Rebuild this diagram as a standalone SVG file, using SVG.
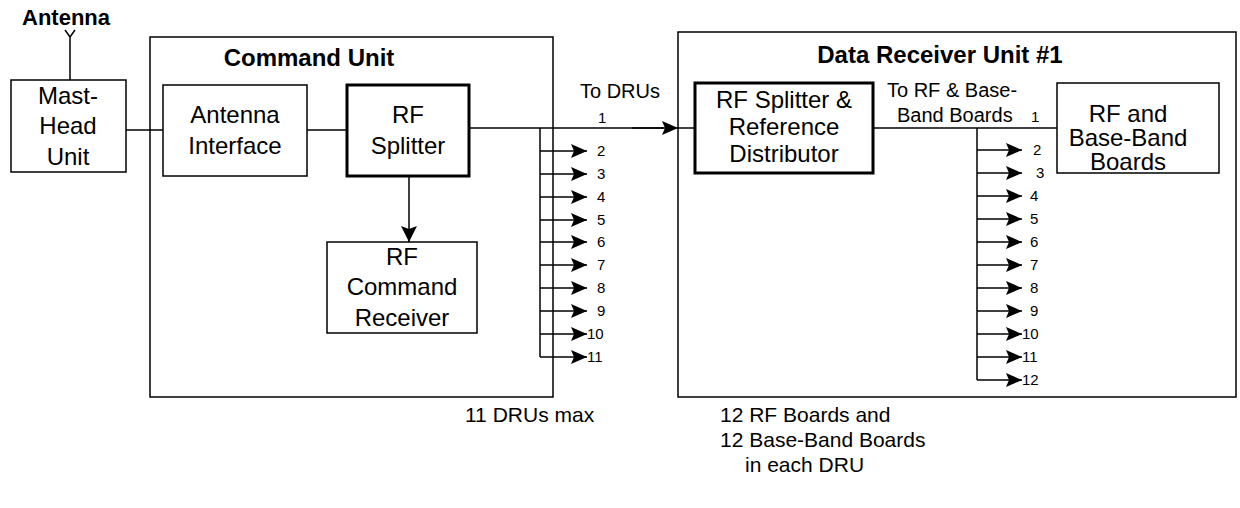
<svg xmlns="http://www.w3.org/2000/svg" width="1240" height="508" viewBox="0 0 1240 508">
  <defs>
    <style>
      .box{fill:#fff;stroke:#000;stroke-width:1.5}
      .unit{fill:none;stroke:#000;stroke-width:1.5}
      .thick{stroke-width:3}
      .wire{fill:none;stroke:#000;stroke-width:1.5}
      text{font-family:"Liberation Sans",Arial,Helvetica,sans-serif;fill:#000}
      .t{font-size:24px;text-anchor:middle}
      .title{font-size:24px;font-weight:bold;text-anchor:middle}
      .note{font-size:20px}
      .num{font-size:15px}
      .foot{font-size:21px}
    </style>
    <marker id="ah" viewBox="0 0 16 14" refX="16" refY="7" markerWidth="16" markerHeight="14" markerUnits="userSpaceOnUse" orient="auto">
      <path d="M0,0 L16,7 L0,14 L3,7 Z" fill="#000"/>
    </marker>
    <marker id="ahBig" viewBox="0 0 16 16" refX="16" refY="8" markerWidth="16" markerHeight="16" markerUnits="userSpaceOnUse" orient="auto">
      <path d="M0,0 L16,8 L0,16 L3,8 Z" fill="#000"/>
    </marker>
  </defs>
  <rect width="1240" height="508" fill="#fff"/>

  <!-- enclosures -->
  <g id="command-unit">
    <rect class="unit" x="150" y="37" width="403" height="360"/>
    <text class="title" x="309" y="66">Command Unit</text>
  </g>
  <g id="data-receiver-unit">
    <rect class="unit" x="678" y="32" width="558" height="365"/>
    <text class="title" x="940" y="63">Data Receiver Unit #1</text>
  </g>

  <!-- connectors -->
  <g id="connectors">
    <path class="wire" d="M65,30 L70,37 L75,30 M70,37 V80"/>
    <line class="wire" x1="126" y1="130" x2="163" y2="130"/>
    <line class="wire" x1="307" y1="130" x2="347" y2="130"/>
    <line class="wire" x1="409" y1="176" x2="409" y2="242" marker-end="url(#ahBig)"/>
    <!-- splitter output 1 to the DRU -->
    <line class="wire" x1="469" y1="128" x2="678" y2="128" marker-end="url(#ah)"/>
    <line class="wire" x1="632" y1="128" x2="664" y2="128" stroke-width="2.5"/>
    <line class="wire" x1="678" y1="128" x2="695" y2="128"/>
    <!-- command unit fan-out bus, outputs 2..11 -->
    <line class="wire" x1="540" y1="128" x2="540" y2="357"/>
    <g marker-end="url(#ah)">
      <line class="wire" x1="540" y1="151" x2="587" y2="151"/>
      <line class="wire" x1="540" y1="174" x2="587" y2="174"/>
      <line class="wire" x1="540" y1="197" x2="587" y2="197"/>
      <line class="wire" x1="540" y1="220" x2="587" y2="220"/>
      <line class="wire" x1="540" y1="242" x2="587" y2="242"/>
      <line class="wire" x1="540" y1="265" x2="587" y2="265"/>
      <line class="wire" x1="540" y1="288" x2="587" y2="288"/>
      <line class="wire" x1="540" y1="311" x2="587" y2="311"/>
      <line class="wire" x1="540" y1="334" x2="587" y2="334"/>
      <line class="wire" x1="540" y1="357" x2="587" y2="357"/>
    </g>
    <!-- DRU board feed and fan-out bus, outputs 2..12 -->
    <line class="wire" x1="873" y1="128" x2="1057" y2="128"/>
    <line class="wire" x1="977" y1="128" x2="977" y2="380"/>
    <g marker-end="url(#ah)">
      <line class="wire" x1="977" y1="150" x2="1022" y2="150"/>
      <line class="wire" x1="977" y1="173" x2="1022" y2="173"/>
      <line class="wire" x1="977" y1="196" x2="1022" y2="196"/>
      <line class="wire" x1="977" y1="219" x2="1022" y2="219"/>
      <line class="wire" x1="977" y1="242" x2="1022" y2="242"/>
      <line class="wire" x1="977" y1="265" x2="1022" y2="265"/>
      <line class="wire" x1="977" y1="288" x2="1022" y2="288"/>
      <line class="wire" x1="977" y1="311" x2="1022" y2="311"/>
      <line class="wire" x1="977" y1="334" x2="1022" y2="334"/>
      <line class="wire" x1="977" y1="357" x2="1022" y2="357"/>
      <line class="wire" x1="977" y1="380" x2="1022" y2="380"/>
    </g>
  </g>

  <!-- connector labels -->
  <g id="port-labels" class="num">
    <text class="note" x="580" y="98">To DRUs</text>
    <text x="598" y="123">1</text>
    <text x="597" y="156">2</text>
    <text x="597" y="179">3</text>
    <text x="597" y="202">4</text>
    <text x="597" y="225">5</text>
    <text x="597" y="247">6</text>
    <text x="597" y="270">7</text>
    <text x="597" y="293">8</text>
    <text x="597" y="316">9</text>
    <text x="587" y="339">10</text>
    <text x="587" y="362">11</text>

    <text class="note" x="887" y="97">To RF &amp; Base-</text>
    <text class="note" x="897" y="122">Band Boards</text>
    <text x="1031" y="122">1</text>
    <text x="1033" y="155">2</text>
    <text x="1036" y="178">3</text>
    <text x="1030" y="201">4</text>
    <text x="1030" y="224">5</text>
    <text x="1030" y="247">6</text>
    <text x="1030" y="270">7</text>
    <text x="1030" y="293">8</text>
    <text x="1030" y="316">9</text>
    <text x="1022" y="339">10</text>
    <text x="1022" y="362">11</text>
    <text x="1022" y="385">12</text>
  </g>

  <!-- blocks -->
  <g id="antenna">
    <text x="22" y="25" font-size="22" font-weight="bold">Antenna</text>
  </g>
  <g id="mast-head-unit">
    <rect class="box" x="11" y="80" width="115" height="92"/>
    <text class="t" font-size="23" x="68" y="104">Mast-</text>
    <text class="t" font-size="23" x="68" y="134">Head</text>
    <text class="t" font-size="23" x="68" y="165">Unit</text>
  </g>
  <g id="antenna-interface">
    <rect class="box" x="163" y="85" width="144" height="91"/>
    <text class="t" x="235" y="123">Antenna</text>
    <text class="t" x="235" y="154">Interface</text>
  </g>
  <g id="rf-splitter">
    <rect class="box thick" x="347" y="85" width="122" height="91"/>
    <text class="t" x="408" y="123">RF</text>
    <text class="t" x="408" y="154">Splitter</text>
  </g>
  <g id="rf-command-receiver">
    <rect class="box" x="327" y="242" width="150" height="91"/>
    <text class="t" x="402" y="265">RF</text>
    <text class="t" x="402" y="295">Command</text>
    <text class="t" x="402" y="326">Receiver</text>
  </g>
  <g id="rf-splitter-reference-distributor">
    <rect class="box thick" x="695" y="83" width="178" height="90"/>
    <text class="t" x="784" y="108">RF Splitter &amp;</text>
    <text class="t" x="784" y="135">Reference</text>
    <text class="t" x="784" y="162">Distributor</text>
  </g>
  <g id="rf-baseband-boards">
    <rect class="box" x="1057" y="83" width="162" height="90"/>
    <text class="t" font-size="23" x="1128" y="122">RF and</text>
    <text class="t" font-size="23" x="1128" y="146">Base-Band</text>
    <text class="t" font-size="23" x="1128" y="170">Boards</text>
  </g>

  <!-- footnotes -->
  <g id="notes" class="foot">
    <text x="465" y="422">11 DRUs max</text>
    <text x="720" y="422">12 RF Boards and</text>
    <text x="720" y="447">12 Base-Band Boards</text>
    <text x="745" y="472">in each DRU</text>
  </g>
</svg>
